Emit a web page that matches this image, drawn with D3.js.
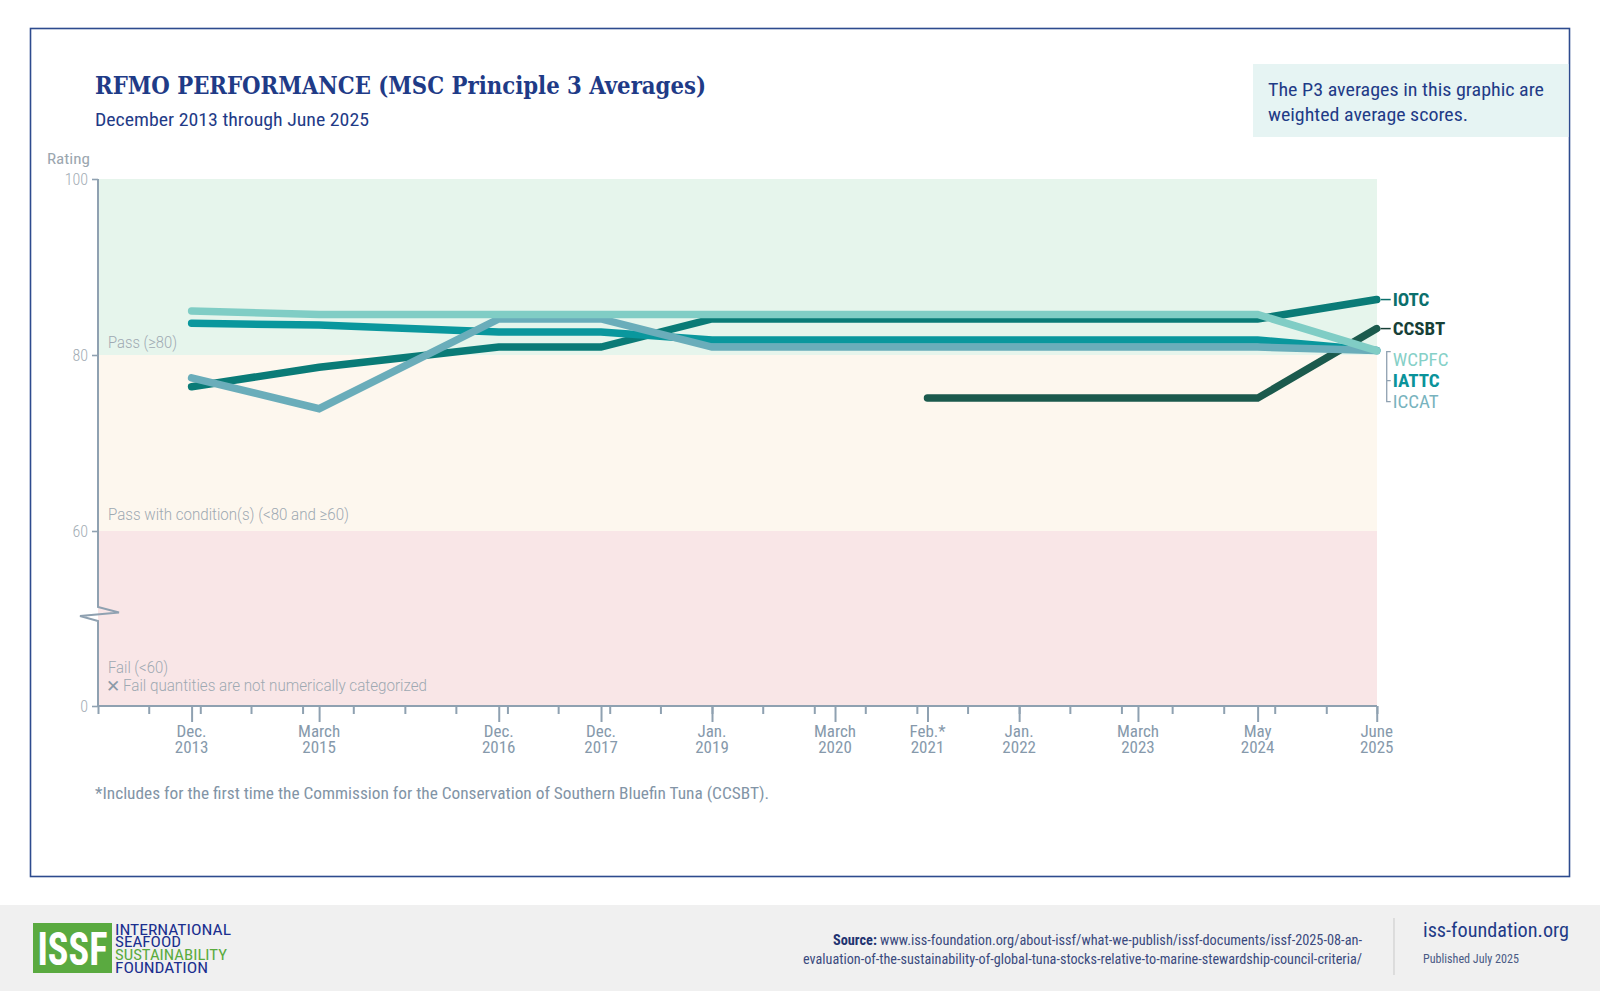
<!DOCTYPE html>
<html><head><meta charset="utf-8">
<script src="https://cdn.jsdelivr.net/npm/d3@7"></script>
<style>body{margin:0;background:#fff;} svg{display:block}</style>
</head><body><svg id="c" width="1600" height="991"></svg>
<script>
// ---------- data ----------
const dates = ["2013-12-01","2015-03-01","2016-12-01","2017-12-01","2019-01-01","2020-03-15","2021-02-08","2022-01-01","2023-03-01","2024-05-01","2025-06-30"];
const tickTop = ["Dec.","March","Dec.","Dec.","Jan.","March","Feb.*","Jan.","March","May","June"];
const tickBottom = ["2013","2015","2016","2017","2019","2020","2021","2022","2023","2024","2025"];
const yTickValues = [0, 60, 80, 100];
const seriesNames = ["CCSBT","IOTC","IATTC","ICCAT","WCPFC"];
const IOTC  = [76.4, 78.6, 80.9, 80.9, 84.1, 84.1, 84.1, 84.1, 84.1, 84.1, 86.3];
const WCPFC = [85.0, 84.6, 84.6, 84.6, 84.6, 84.6, 84.6, 84.6, 84.6, 84.6, 80.5];
const IATTC = [83.6, 83.4, 82.6, 82.6, 81.7, 81.7, 81.7, 81.7, 81.7, 81.7, 80.5];
const ICCAT = [77.4, 73.9, 84.1, 84.1, 80.9, 80.9, 80.9, 80.9, 80.9, 80.9, 80.5];
const CCSBT = [null, null, null, null, null, null, 75.1, 75.1, 75.1, 75.1, 83.0];
const bandNames = ["Pass (≥80)", "Pass with condition(s) (<80 and ≥60)", "Fail (<60)"];
const bandRanges = [[80,100],[60,80],[0,60]];
const logoLines = ["INTERNATIONAL", "SEAFOOD", "SUSTAINABILITY", "FOUNDATION"];

// ---------- styles ----------
const values = {IOTC, WCPFC, IATTC, ICCAT, CCSBT};
const colors = {IOTC:"#0a7b77", WCPFC:"#80cdc5", IATTC:"#0a979d", ICCAT:"#6aadba", CCSBT:"#1b5a4d"};
const labelColors = {IOTC:"#0b6f6c", CCSBT:"#173f37", WCPFC:"#86d0c7", IATTC:"#0a939a", ICCAT:"#78b3be"};
const bandColors = ["#e6f5ec", "#fdf7ee", "#f9e6e7"];
const NARROW = "'Liberation Sans Narrow','Roboto Condensed','Roboto',sans-serif";
const NAVY = "#1f3b87";
const AXIS = "#8fa1b1";

const svg = d3.select("#c");
const parse = d3.timeParse("%Y-%m-%d");
const pDates = dates.map(parse);

const x = d3.scaleTime().domain([parse("2013-01-01"), parse("2025-07-01")]).range([98, 1377]);
const y = d3.scaleLinear().domain([0, 60, 100]).range([706, 531, 179]);

function txt(g, o) {
  const t = g.append("text").attr("x", o.x).attr("y", o.y)
    .attr("font-family", o.family || NARROW).attr("font-size", o.size)
    .attr("font-weight", o.weight || "normal").attr("fill", o.fill)
    .attr("text-anchor", o.anchor || "start").text(o.text);
  if (o.len) t.attr("textLength", o.len).attr("lengthAdjust", "spacingAndGlyphs");
  return t;
}

// outer frame
svg.append("rect").attr("x", 30.5).attr("y", 28.5).attr("width", 1539).attr("height", 848)
  .attr("fill", "none").attr("stroke", "#2d4b8e").attr("stroke-width", 1.6);

// note box
svg.append("rect").attr("x", 1253).attr("y", 64).attr("width", 315.5).attr("height", 73).attr("fill", "#e6f4f3");
txt(svg, {x:1268, y:96, text:"The P3 averages in this graphic are", size:19, fill:NAVY, len:276});
txt(svg, {x:1268, y:120.5, text:"weighted average scores.", size:19, fill:NAVY, len:200});

// titles
txt(svg, {x:95, y:94, text:"RFMO PERFORMANCE (MSC Principle 3 Averages)", size:25, weight:"bold",
  family:"'DejaVu Serif Condensed','DejaVu Serif',serif", fill:NAVY, len:611});
txt(svg, {x:95, y:125.5, text:"December 2013 through June 2025", size:18, fill:NAVY, len:274});
txt(svg, {x:47, y:163.5, text:"Rating", size:15, fill:"#9ba6af", len:43});

// bands
const bands = svg.append("g");
bandRanges.forEach((r, i) => {
  bands.append("rect").attr("x", x.range()[0]).attr("width", x.range()[1] - x.range()[0])
    .attr("y", y(r[1])).attr("height", y(r[0]) - y(r[1])).attr("fill", bandColors[i]);
});
const BL = "#9ea9b2";
txt(svg, {x:108, y:347.5, text:bandNames[0], size:16, fill:BL, len:69, family:"Roboto", weight:300});
txt(svg, {x:108, y:520, text:bandNames[1], size:16, fill:BL, len:241, family:"Roboto", weight:300});
txt(svg, {x:108, y:672.5, text:bandNames[2], size:16, fill:BL, len:60, family:"Roboto", weight:300});
txt(svg, {x:106, y:691.5, text:"✕", size:17, fill:"#8c9aa8", family:"DejaVu Sans"});
txt(svg, {x:123, y:690.5, text:"Fail quantities are not numerically categorized", size:16, fill:BL, len:304, family:"Roboto", weight:300});

// y axis
const yAxis = d3.axisLeft(y).tickValues(yTickValues).tickSize(6).tickPadding(4);
const gy = svg.append("g").attr("transform", "translate(98,0)").call(yAxis);
gy.select(".domain").remove();
gy.selectAll(".tick line").attr("stroke", AXIS).attr("stroke-width", 1.6);
gy.selectAll(".tick text").attr("font-family", NARROW).attr("font-size", 16).attr("font-weight", 300).attr("fill", "#a2acb4");
// axis line with break
svg.append("path").attr("fill", "none").attr("stroke", AXIS).attr("stroke-width", 2)
  .attr("stroke-linejoin", "miter")
  .attr("d", `M98,${y(100)} V607 L119,612.5 L80,616 L98,621 V${y(0)}`);

// x axis
const minor = d3.timeMonth.every(6).range(parse("2013-01-01"), parse("2025-07-02"));
const gxMinor = svg.append("g").attr("transform", `translate(0,${y(0)})`)
  .call(d3.axisBottom(x).tickValues(minor).tickSize(8).tickFormat(""));
const gxMajor = svg.append("g").attr("transform", `translate(0,${y(0)})`)
  .call(d3.axisBottom(x).tickValues(pDates).tickSize(16).tickFormat(""));
[gxMinor, gxMajor].forEach(g => {
  g.select(".domain").attr("stroke", AXIS).attr("stroke-width", 2).attr("d", `M98,0H1377`);
  g.selectAll(".tick line").attr("stroke", AXIS).attr("stroke-width", 2);
});
const xl = svg.append("g");
pDates.forEach((d, i) => {
  txt(xl, {x:x(d), y:737, text:tickTop[i], size:17, fill:"#8699ab", anchor:"middle"});
  txt(xl, {x:x(d), y:752.5, text:tickBottom[i], size:17, fill:"#8699ab", anchor:"middle"});
});

// lines
const line = d3.line().defined(d => d.v != null).x(d => x(d.d)).y(d => y(d.v));
const lg = svg.append("g");
seriesNames.forEach(name => {
  const pts = values[name].map((v, i) => ({d: pDates[i], v}));
  lg.append("path").datum(pts).attr("d", line).attr("fill", "none")
    .attr("stroke", colors[name]).attr("stroke-width", 7.5)
    .attr("stroke-linecap", "round").attr("stroke-linejoin", "miter");
});

// series labels
const xEnd = x(pDates[pDates.length - 1]);
const lab = svg.append("g");
const last = n => values[n][values[n].length - 1];
[["IOTC", y(last("IOTC"))], ["CCSBT", y(last("CCSBT"))]].forEach(([n, yy]) => {
  lab.append("line").attr("x1", xEnd + 4).attr("x2", xEnd + 14).attr("y1", yy).attr("y2", yy)
    .attr("stroke", labelColors[n]).attr("stroke-width", 1.5);
  txt(lab, {x:xEnd + 16, y:yy + 6.5, text:n, size:19, weight:"bold", fill:labelColors[n]});
});
const yc = y(last("WCPFC"));
const grp = [["WCPFC", yc + 9, "normal"], ["IATTC", yc + 30, "bold"], ["ICCAT", yc + 51, "normal"]];
lab.append("path").attr("fill", "none").attr("stroke", "#8fa1b1").attr("stroke-width", 1.3)
  .attr("d", `M${xEnd + 14},${yc + 1} H${xEnd + 10} V${yc + 51} H${xEnd + 14} M${xEnd + 10},${yc + 30} H${xEnd + 14}`);
grp.forEach(([n, yy, w]) => {
  txt(lab, {x:xEnd + 16, y:yy + 6.5, text:n, size:19, weight:w, fill:labelColors[n]});
});

// footnote
txt(svg, {x:95, y:799, text:"*Includes for the first time the Commission for the Conservation of Southern Bluefin Tuna (CCSBT).", size:16, fill:"#8294a6", len:674});

// footer
svg.append("rect").attr("x", 0).attr("y", 905).attr("width", 1600).attr("height", 86).attr("fill", "#f0f0f0");
svg.append("rect").attr("x", 33).attr("y", 923).attr("width", 79).attr("height", 50).attr("fill", "#5aaa40");
txt(svg, {x:72.5, y:965, text:"ISSF", size:46, weight:"bold", fill:"#fff", anchor:"middle", len:70});
const logo = svg.append("text").attr("font-family", NARROW).attr("font-size", 15);
const logoLens = [116, 66, 112, 93];
const logoFills = ["#1b2f8f", "#1b2f8f", "#5aab3e", "#1b2f8f"];
const logoYs = [934.5, 947, 960, 972.5];
logoLines.forEach((s, i) => {
  logo.append("tspan").attr("x", 115).attr("y", logoYs[i]).attr("fill", logoFills[i])
    .attr("textLength", logoLens[i]).attr("lengthAdjust", "spacingAndGlyphs").text(s);
});

const src = svg.append("text").attr("x", 1362).attr("y", 945).attr("text-anchor", "end")
  .attr("font-family", NARROW).attr("font-size", 15).attr("fill", "#3a4a7e")
  .attr("textLength", 529).attr("lengthAdjust", "spacingAndGlyphs");
src.append("tspan").attr("font-weight", "bold").attr("fill", "#1f3370").text("Source: ");
src.append("tspan").text("www.iss-foundation.org/about-issf/what-we-publish/issf-documents/issf-2025-08-an-");
txt(svg, {x:1362, y:963.5, text:"evaluation-of-the-sustainability-of-global-tuna-stocks-relative-to-marine-stewardship-council-criteria/", size:15, fill:"#3a4a7e", anchor:"end", len:559});
svg.append("line").attr("x1", 1394).attr("x2", 1394).attr("y1", 918).attr("y2", 975).attr("stroke", "#c9c9c9").attr("stroke-width", 1);
txt(svg, {x:1423, y:937, text:"iss-foundation.org", size:21, fill:NAVY, len:146});
txt(svg, {x:1423, y:963, text:"Published July 2025", size:13, fill:"#4a5a85", len:96});
</script></body></html>
